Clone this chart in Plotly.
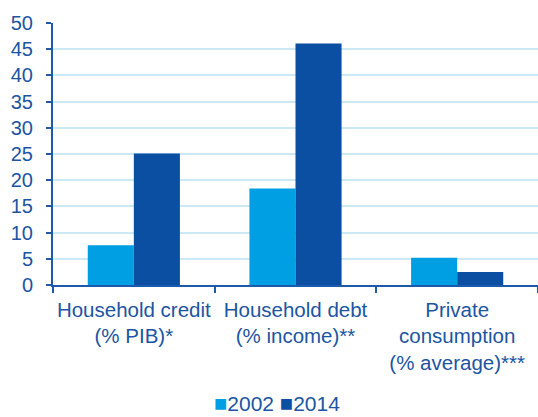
import plotly.graph_objects as go

categories = ["Household credit<br>(% PIB)*", "Household debt<br>(% income)**",
              "Private<br>consumption<br>(% average)***"]
series_names = ["2002", "2014"]
values_2002 = [7.6, 18.4, 5.2]
values_2014 = [25.1, 46.1, 2.5]
y_ticks = [0, 5, 10, 15, 20, 25, 30, 35, 40, 45, 50]

c2002 = "#009FE3"
c2014 = "#0B4FA3"
txt = "#1B55A3"
font = "Liberation Sans, Arial, sans-serif"
fs = 20

fig = go.Figure()
fig.add_trace(go.Bar(x=categories, y=values_2002, name=series_names[0],
                     marker=dict(color=c2002, line=dict(width=0))))
fig.add_trace(go.Bar(x=categories, y=values_2014, name=series_names[1],
                     marker=dict(color=c2014, line=dict(width=0))))

legend_text = (f"<span style='color:{c2002};font-size:22px'>■</span>{series_names[0]} "
               f"<span style='color:{c2014};font-size:22px'>■</span>{series_names[1]}")

fig.update_layout(
    width=538, height=417,
    margin=dict(l=53, r=0, t=23, b=132),
    paper_bgcolor="white", plot_bgcolor="white",
    barmode="group", bargap=0.43, bargroupgap=0,
    font=dict(family=font, size=fs, color=txt),
    showlegend=False,
    annotations=[dict(text=legend_text, xref="paper", yref="paper",
                      x=(276.5 - 53) / 485, y=-(403 - 285) / 262,
                      xanchor="center", yanchor="middle", borderpad=0,
                      showarrow=False, font=dict(size=21, color=txt))],
)
fig.update_yaxes(range=[0, 50], tickvals=y_ticks, showgrid=True,
                 gridcolor="#CDE9F6", gridwidth=1.5,
                 showline=True, linecolor="#1D5AAE", linewidth=2,
                 ticks="outside", ticklen=5, tickwidth=2, tickcolor="#1D5AAE",
                 ticklabelstandoff=9, zeroline=False,
                 tickfont=dict(size=fs, color=txt))
fig.update_xaxes(showline=True, linecolor="#1D5AAE", linewidth=2,
                 ticks="outside", tickson="boundaries", ticklen=6, tickwidth=2,
                 tickcolor="#1D5AAE", tickangle=0, ticklabelstandoff=5,
                 tickfont=dict(size=20.5, color=txt))

fig.write_html("out.html")
